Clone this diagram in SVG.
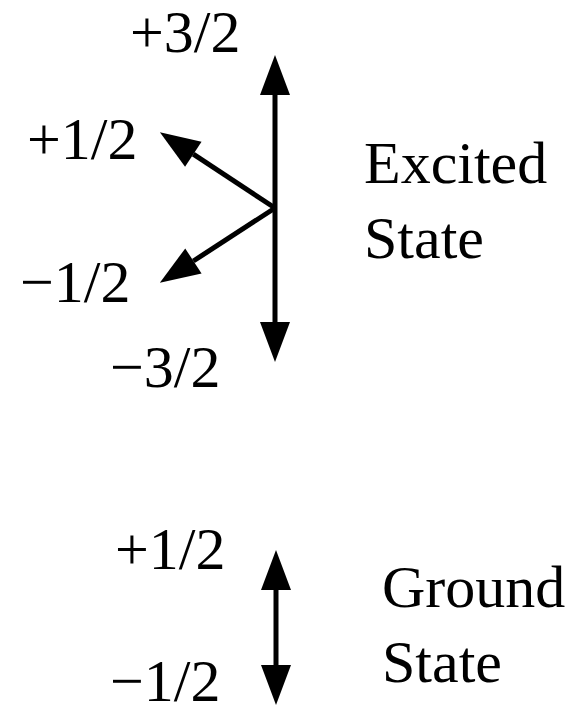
<svg xmlns="http://www.w3.org/2000/svg" width="586" height="714" viewBox="0 0 586 714">
<style>
text{font-family:"Liberation Serif","Times New Roman",serif;font-size:60px;fill:#000}
.s{stroke:#000;stroke-width:5;fill:none}
</style>
<defs>
<marker id="ah" markerUnits="userSpaceOnUse" markerWidth="40" markerHeight="30" refX="0" refY="15" orient="auto-start-reverse" viewBox="0 0 40 30" overflow="visible">
<path d="M0,0 L40,15 L0,30 Z" fill="#000"/>
</marker>
</defs>
<rect width="586" height="714" fill="#fff"/>
<g id="connectors">
<line class="s" x1="275" y1="95" x2="275" y2="322" marker-start="url(#ah)" marker-end="url(#ah)"/>
<line class="s" x1="275" y1="208" x2="193.3" y2="154.2" marker-end="url(#ah)"/>
<line class="s" x1="275" y1="208" x2="193.4" y2="261" marker-end="url(#ah)"/>
<line class="s" x1="276" y1="590" x2="276" y2="665" marker-start="url(#ah)" marker-end="url(#ah)"/>
</g>
<g id="excited-levels">
<text x="130" y="52">+3/2</text>
<text x="27" y="159">+1/2</text>
<text x="20" y="302">−1/2</text>
<text x="110" y="387">−3/2</text>
</g>
<g id="excited-label">
<text x="364" y="183">Excited</text>
<text x="364" y="258">State</text>
</g>
<g id="ground-levels">
<text x="115" y="569">+1/2</text>
<text x="110" y="701">−1/2</text>
</g>
<g id="ground-label">
<text x="382" y="607">Ground</text>
<text x="382" y="682">State</text>
</g>
</svg>
